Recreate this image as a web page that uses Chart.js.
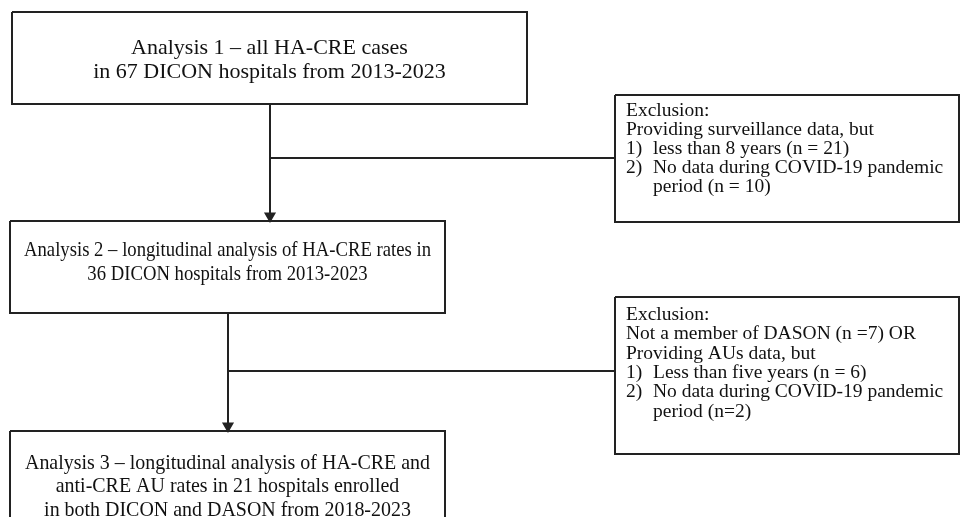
<!DOCTYPE html>
<html>
<head>
<meta charset="utf-8">
<script src="https://cdn.jsdelivr.net/npm/chart.js@4"></script>
<style>
  html, body { margin: 0; padding: 0; background: #ffffff; }
  #wrap { width: 961px; height: 517px; }
</style>
</head>
<body>
<div id="wrap"><canvas id="c" width="961" height="517"></canvas></div>
<script>
// ---- content (text of the flow chart) ----
const analysis1 = ["Analysis 1 \u2013 all HA-CRE cases", "in 67 DICON hospitals from 2013-2023"];
const analysis2 = ["Analysis 2 \u2013 longitudinal analysis of HA-CRE rates in", "36 DICON hospitals from 2013-2023"];
const analysis3 = ["Analysis 3 \u2013 longitudinal analysis of HA-CRE and", "anti-CRE AU rates in 21 hospitals enrolled", "in both DICON and DASON from 2018-2023"];
const exclusion1 = [["", "Exclusion:"], ["", "Providing surveillance data, but"], ["1)", "less than 8 years (n = 21)"], ["2)", "No data during COVID-19 pandemic"], ["", "period (n = 10)"]];
const exclusion2 = [["", "Exclusion:"], ["", "Not a member of DASON (n =7) OR"], ["", "Providing AUs data, but"], ["1)", "Less than five years (n = 6)"], ["2)", "No data during COVID-19 pandemic"], ["", "period (n=2)"]];

// ---- layout (box geometry in canvas units) ----
const layout = {
  box1: { l: 12, t: 12, r: 527, b: 104 },
  box2: { l: 10, t: 221, r: 445, b: 313 },
  box3: { l: 10, t: 431, r: 445, b: 540 },
  excl1: { l: 615, t: 95, r: 959, b: 222 },
  excl2: { l: 615, t: 297, r: 959, b: 454 },
  stem1: { x: 270, y1: 104, y2: 221, hy: 158 },
  stem2: { x: 228, y1: 313, y2: 431, hy: 371 }
};
const ink = '#222222';
const arrowR = 5;

function rectPts(b) {
  return [{x:b.l,y:b.t},{x:b.r,y:b.t},{x:b.r,y:b.b},{x:b.l,y:b.b},{x:b.l,y:b.t}];
}
function lineDs(pts, extra) {
  return Object.assign({
    type: 'line', data: pts, borderColor: ink, backgroundColor: ink,
    borderWidth: 2, pointRadius: 0, fill: false, tension: 0, showLine: true
  }, extra || {});
}

const datasets = [
  lineDs(rectPts(layout.box1)),
  lineDs(rectPts(layout.box2)),
  lineDs(rectPts(layout.box3)),
  lineDs(rectPts(layout.excl1)),
  lineDs(rectPts(layout.excl2)),
  lineDs([{x:layout.stem1.x,y:layout.stem1.y1},{x:layout.stem1.x,y:layout.stem1.y2-arrowR}],
    {pointRadius:[0,arrowR], pointStyle:'triangle', rotation:180, borderWidth:2}),
  lineDs([{x:layout.stem1.x,y:layout.stem1.hy},{x:layout.excl1.l,y:layout.stem1.hy}]),
  lineDs([{x:layout.stem2.x,y:layout.stem2.y1},{x:layout.stem2.x,y:layout.stem2.y2-arrowR}],
    {pointRadius:[0,arrowR], pointStyle:'triangle', rotation:180, borderWidth:2}),
  lineDs([{x:layout.stem2.x,y:layout.stem2.hy},{x:layout.excl2.l,y:layout.stem2.hy}])
];

const serif = '"Liberation Serif", "Times New Roman", serif';

const textPlugin = {
  id: 'flowText',
  afterDatasetsDraw(chart) {
    const ctx = chart.ctx, xs = chart.scales.x, ys = chart.scales.y;
    const px = v => xs.getPixelForValue(v), py = v => ys.getPixelForValue(v);
    ctx.save();
    ctx.fillStyle = '#111111';
    ctx.textBaseline = 'middle';
    // main boxes, centred: [lines, box, first line y, line step, font px, x squeeze]
    ctx.textAlign = 'center';
    const mains = [
      [analysis1, layout.box1, 48, 24, 22, 1.0],
      [analysis2, layout.box2, 250, 24, 21, 0.89],
      [analysis3, layout.box3, 463, 23.5, 21, 0.95]
    ];
    mains.forEach(([lines, b, y0, lh, fs, sx]) => {
      const cx = px((b.l + b.r) / 2);
      ctx.font = fs + 'px ' + serif;
      lines.forEach((s, i) => {
        ctx.save();
        ctx.translate(cx, py(y0 + i * lh));
        ctx.scale(sx, 1);
        ctx.fillText(s, 0, 0);
        ctx.restore();
      });
    });
    // exclusion boxes
    ctx.font = '19.5px ' + serif;
    ctx.textAlign = 'left';
    const excl = [[exclusion1, layout.excl1, 111, 19], [exclusion2, layout.excl2, 315, 19.3]];
    excl.forEach(([rows, b, y0, lh]) => {
      const firstNum = rows.findIndex(r => r[0] !== '');
      rows.forEach((row, i) => {
        const y = py(y0 + i * lh);
        const indented = i >= firstNum;
        if (row[0]) ctx.fillText(row[0], px(b.l + 11), y);
        ctx.fillText(row[1], px(indented ? b.l + 38 : b.l + 11), y);
      });
    });
    ctx.restore();
  }
};

new Chart(document.getElementById('c'), {
  type: 'scatter',
  data: { datasets },
  options: {
    responsive: false,
    animation: false,
    devicePixelRatio: 1,
    layout: { padding: 0, autoPadding: false },
    plugins: { legend: { display: false }, tooltip: { enabled: false } },
    scales: {
      x: { type: 'linear', min: 0, max: 961, display: false },
      y: { type: 'linear', min: 0, max: 517, reverse: true, display: false }
    }
  },
  plugins: [textPlugin]
});
</script>
</body>
</html>
